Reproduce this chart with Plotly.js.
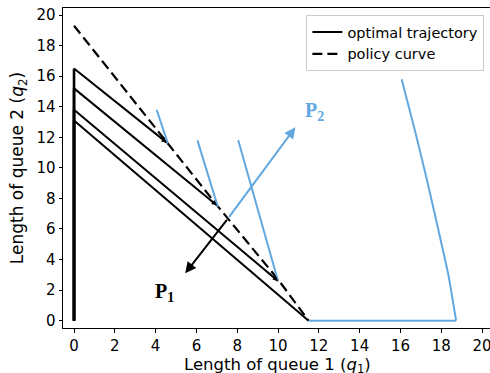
<!DOCTYPE html>
<html>
<head>
<meta charset="utf-8">
<script src="https://cdn.plot.ly/plotly-3.0.1.min.js"></script>
<style>
  html, body { margin: 0; padding: 0; background: #fff; }
  #chart { width: 490px; height: 373px; }
</style>
</head>
<body>
<div id="chart"></div>
<script>
// Optimal trajectories: rise along the q2 axis, then slide down to the policy curve
const trajStartQ2 = [16.5, 15.2, 13.8, 13.1];
const trajEndQ1 = [4.55, 7.0, 10.0, 11.5];
const trajEndQ2 = [11.65, 7.55, 2.6, 0];

// Policy (switching) curve
const policyQ1 = [0, 4.6, 7.1, 10.0, 11.5];
const policyQ2 = [19.3, 11.6, 7.4, 2.7, 0];

// Short blue segments, each given as [start, end]
const blueSegQ1 = [[4.05, 4.6], [6.05, 7.05], [8.05, 10.0]];
const blueSegQ2 = [[13.8, 11.6], [11.8, 7.45], [11.8, 2.6]];

// Outer blue boundary: flat part on the q1 axis, then the curved edge
const floorQ1 = [11.5, 18.73];
const floorQ2 = [0, 0];
const edgeQ1 = [18.73, 18.35, 17.85, 17.3, 16.7, 16.06];
const edgeQ2 = [0, 3.0, 6.0, 9.2, 12.5, 15.8];

// Direction arrows P1 / P2
const arrowOrigin = [7.55, 6.7];
const p1Tip = [5.45, 3.1];
const p2Tip = [10.85, 12.65];
const p1Label = [4.45, 1.85];
const p2Label = [11.8, 13.7];

const tickVals = [0, 2, 4, 6, 8, 10, 12, 14, 16, 18, 20];

const BLUE = '#62a8e0';
const traces = [];
const annotations = [];

trajStartQ2.forEach((q2, i) => {
  // vertical run along the q2 axis
  traces.push({
    type: 'scatter', mode: 'lines',
    x: [0, 0], y: [0, q2],
    line: { color: '#000', width: 2.6 },
    showlegend: false, hoverinfo: 'skip'
  });
  traces.push({
    type: 'scatter', mode: 'lines',
    x: [0, trajEndQ1[i]], y: [q2, trajEndQ2[i]],
    line: { color: '#000', width: 2 },
    name: 'optimal trajectory',
    showlegend: i === 0, hoverinfo: 'skip'
  });
  // small arrowhead where the trajectory meets the curve
  if (i < 3) {
    const dx = trajEndQ1[i], dy = trajEndQ2[i] - q2;
    annotations.push({
      x: trajEndQ1[i], y: trajEndQ2[i],
      ax: trajEndQ1[i] - 0.06 * dx, ay: trajEndQ2[i] - 0.06 * dy,
      xref: 'x', yref: 'y', axref: 'x', ayref: 'y',
      text: '', showarrow: true, arrowhead: 2, arrowsize: 0.7,
      arrowwidth: 1.5, arrowcolor: '#000'
    });
  }
});

traces.push({
  type: 'scatter', mode: 'lines',
  x: policyQ1, y: policyQ2,
  line: { color: '#000', width: 2.2, dash: '10px,5px' },
  name: 'policy curve', hoverinfo: 'skip'
});

blueSegQ1.forEach((xs, i) => {
  traces.push({
    type: 'scatter', mode: 'lines',
    x: xs, y: blueSegQ2[i],
    line: { color: BLUE, width: 2 },
    showlegend: false, hoverinfo: 'skip'
  });
});

traces.push({
  type: 'scatter', mode: 'lines',
  x: floorQ1, y: floorQ2,
  line: { color: BLUE, width: 2 },
  showlegend: false, hoverinfo: 'skip'
});
traces.push({
  type: 'scatter', mode: 'lines',
  x: edgeQ1, y: edgeQ2,
  line: { color: BLUE, width: 2, shape: 'spline', smoothing: 0.5 },
  showlegend: false, hoverinfo: 'skip'
});

annotations.push({
  x: p1Tip[0], y: p1Tip[1], ax: arrowOrigin[0], ay: arrowOrigin[1],
  xref: 'x', yref: 'y', axref: 'x', ayref: 'y',
  text: '', showarrow: true, arrowhead: 2, arrowsize: 1.1,
  arrowwidth: 2, arrowcolor: '#000'
});
annotations.push({
  x: p2Tip[0], y: p2Tip[1], ax: arrowOrigin[0], ay: arrowOrigin[1],
  xref: 'x', yref: 'y', axref: 'x', ayref: 'y',
  text: '', showarrow: true, arrowhead: 2, arrowsize: 1.1,
  arrowwidth: 2, arrowcolor: BLUE
});
annotations.push({
  x: p1Label[0], y: p1Label[1], xref: 'x', yref: 'y',
  text: '<b>P<sub>1</sub></b>', showarrow: false,
  font: { family: 'Liberation Serif', size: 20, color: '#000' }
});
annotations.push({
  x: p2Label[0], y: p2Label[1], xref: 'x', yref: 'y',
  text: '<b>P<sub>2</sub></b>', showarrow: false,
  font: { family: 'Liberation Serif', size: 20, color: BLUE }
});
// x-axis title, set just under the tick labels
annotations.push({
  x: 0.502, y: -0.116, xref: 'paper', yref: 'paper',
  xanchor: 'center', yanchor: 'middle', showarrow: false,
  text: 'Length of queue 1 (<i>q</i><sub>1</sub>)',
  font: { family: 'DejaVu Sans', size: 16.5, color: '#000' }
});

const axisCommon = {
  showgrid: false, zeroline: false,
  showline: true, linecolor: '#000', linewidth: 1, mirror: true,
  ticks: 'outside', ticklen: 3.5, tickwidth: 1, tickcolor: '#000',
  tickvals: tickVals, ticklabeloverflow: 'allow',
  tickfont: { family: 'DejaVu Sans', size: 15, color: '#000' }
};

const layout = {
  width: 490, height: 373,
  margin: { l: 63, r: 0, t: 8, b: 45 },
  paper_bgcolor: '#fff', plot_bgcolor: '#fff',
  font: { family: 'DejaVu Sans', size: 15, color: '#000' },
  xaxis: Object.assign({}, axisCommon, {
    range: [-0.54, 20.39]
  }),
  yaxis: Object.assign({}, axisCommon, {
    range: [-0.48, 20.46],
    title: { text: 'Length of queue 2 (<i>q</i><sub>2</sub>)', font: { size: 17 }, standoff: 8 }
  }),
  legend: {
    x: 0.57, y: 0.978, xanchor: 'left', yanchor: 'top',
    bgcolor: '#fff', bordercolor: '#cccccc', borderwidth: 1,
    tracegroupgap: 0,
    font: { family: 'DejaVu Sans', size: 14.5, color: '#000' }
  },
  annotations: annotations,
  showlegend: true
};

Plotly.newPlot('chart', traces, layout, { displayModeBar: false, staticPlot: true });
</script>
</body>
</html>
